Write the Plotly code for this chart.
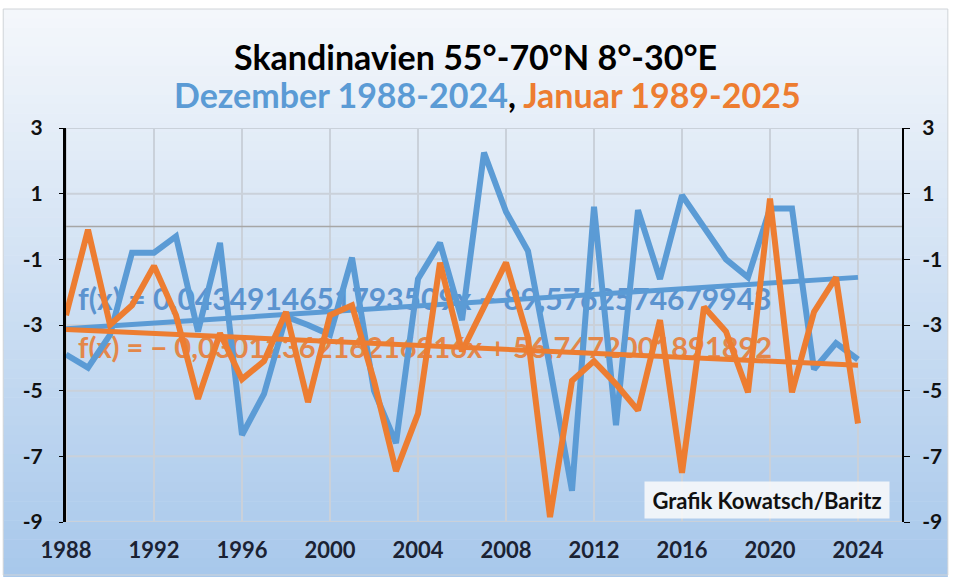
import plotly.graph_objects as go

# ---------------- data ----------------
years = list(range(1988, 2025))
dezember = [-3.9, -4.3, -3.3, -0.8, -0.8, -0.3, -3.2, -0.5, -6.35, -5.1,
            -2.75, -3.0, -3.3, -0.95, -5.0, -6.6, -1.6, -0.5, -2.85, 2.25,
            0.45, -0.75, -4.3, -8.05, 0.6, -6.05, 0.5, -1.6, 0.95, -0.05,
            -1.0, -1.55, 0.55, 0.55, -4.35, -3.55, -4.05]
januar = [-2.7, -0.1, -3.0, -2.4, -1.2, -2.7, -5.25, -3.25, -4.65, -4.1,
          -2.6, -5.35, -2.7, -2.4, -4.7, -7.45, -5.7, -1.1, -3.8, -2.5,
          -1.1, -3.4, -8.85, -4.7, -4.1, -4.8, -5.6, -2.85, -7.5, -2.45,
          -3.2, -5.05, 0.85, -5.05, -2.6, -1.55, -6.0]
trend_dez = (0.0434914651793509, -89.5762574679943)
trend_jan = (-0.0301236216216216, 56.7472001891892)
eq_dez = "f(x) = 0,0434914651793509x − 89,5762574679943"
eq_jan = "f(x) = − 0,0301236216216216x + 56,7472001891892"
x_ticks = list(range(1988, 2025, 4))
y_ticks = [3, 1, -1, -3, -5, -7, -9]
y_ticktext = ["3", "1", "-1", "-3", "-5", "-7", "-9"]
x_range = [1988, 2026]
y_range = [-9, 3]
title1 = "Skandinavien 55°-70°N 8°-30°E"
title2a = "Dezember 1988-2024"
title2b = "Januar 1989-2025"
credit = "Grafik Kowatsch/Baritz"

BLUE = "#5B9BD5"
ORANGE = "#ED7D31"
FONT = "Lato"
GRID = "#CAD1DA"

W, H = 954, 577
L, R, T, B = 66, 905, 128, 522  # plot area in px


def px2paper_x(px):
    return (px - L) / (R - L)


def px2paper_y(py):
    return (B - py) / (B - T)


fig = go.Figure()

# gridlines as a trace (below everything else)
gx, gy = [], []
for xv in x_ticks:
    gx += [xv, xv, None]
    gy += [y_range[0], y_range[1], None]
for yv in y_ticks:
    gx += [x_range[0], x_range[1], None]
    gy += [yv, yv, None]
fig.add_trace(go.Scatter(x=gx, y=gy, mode="lines",
                         line=dict(color=GRID, width=2),
                         showlegend=False, hoverinfo="skip", cliponaxis=False))
# zero line
fig.add_trace(go.Scatter(x=x_range, y=[0, 0], mode="lines",
                         line=dict(color="#A6A6A6", width=1.5),
                         showlegend=False, hoverinfo="skip"))

# equation labels (drawn under the lines)
fig.add_trace(go.Scatter(x=[1988.55], y=[-2.3], mode="text",
                         text=["<b>%s</b>" % eq_dez],
                         textposition="middle right",
                         textfont=dict(family=FONT, size=30, color="#5B93CF"),
                         showlegend=False, hoverinfo="skip"))
fig.add_trace(go.Scatter(x=[1988.55], y=[-3.78], mode="text",
                         text=["<b>%s</b>" % eq_jan],
                         textposition="middle right",
                         textfont=dict(family=FONT, size=29, color="#E3874A"),
                         showlegend=False, hoverinfo="skip"))

# data lines
fig.add_trace(go.Scatter(x=years, y=dezember, mode="lines",
                         line=dict(color=BLUE, width=6), showlegend=False))
x_tr = [years[0], years[-1]]
fig.add_trace(go.Scatter(x=x_tr, y=[trend_dez[0] * x + trend_dez[1] for x in x_tr],
                         mode="lines", line=dict(color=BLUE, width=5),
                         showlegend=False))
fig.add_trace(go.Scatter(x=years, y=januar, mode="lines",
                         line=dict(color=ORANGE, width=6), showlegend=False))
fig.add_trace(go.Scatter(x=x_tr, y=[trend_jan[0] * x + trend_jan[1] for x in x_tr],
                         mode="lines", line=dict(color=ORANGE, width=5),
                         showlegend=False))
# dummy trace for right axis
fig.add_trace(go.Scatter(x=[None], y=[None], yaxis="y2", showlegend=False,
                         hoverinfo="skip"))

# background gradient
shapes = []
top_c = (244, 247, 251)
bot_c = (168, 200, 235)
y_start, y_end = 9, 577
n = 60
for i in range(n):
    f = i / (n - 1)
    c = tuple(int(round(top_c[k] + (bot_c[k] - top_c[k]) * f)) for k in range(3))
    y0 = y_start + (y_end - y_start) * i / n
    y1 = y_start + (y_end - y_start) * (i + 1) / n + 0.6
    shapes.append(dict(type="rect", xref="paper", yref="paper",
                       x0=px2paper_x(3), x1=px2paper_x(951),
                       y0=px2paper_y(y1), y1=px2paper_y(y0),
                       fillcolor="rgb(%d,%d,%d)" % c, line=dict(width=0),
                       layer="below"))
shapes.append(dict(type="rect", xref="paper", yref="paper",
                   x0=px2paper_x(3), x1=px2paper_x(951),
                   y0=px2paper_y(575), y1=px2paper_y(9),
                   line=dict(color="#D0D4D8", width=1), layer="below"))

annotations = [
    dict(text="<b>%s</b>" % title1, xref="paper", yref="paper",
         x=px2paper_x(477), y=px2paper_y(57), showarrow=False,
         font=dict(family=FONT, size=34, color="black"),
         xanchor="center", yanchor="middle"),
    dict(text="<b><span style='color:%s'>%s</span>, <span style='color:%s'>%s</span></b>"
         % (BLUE, title2a, ORANGE, title2b), xref="paper", yref="paper",
         x=px2paper_x(489), y=px2paper_y(95), showarrow=False,
         font=dict(family=FONT, size=34, color="black"),
         xanchor="center", yanchor="middle"),
    dict(text="<b>%s</b>" % credit, xref="paper", yref="paper",
         x=px2paper_x(770), y=px2paper_y(500), showarrow=False,
         font=dict(family=FONT, size=22, color="#111111"),
         bgcolor="rgba(250,250,250,0.85)", width=242, height=34,
         xanchor="center", yanchor="middle"),
]

tickfont = dict(family=FONT, size=21, color="#111111")
fig.update_layout(
    width=W, height=H,
    margin=dict(l=L, r=W - R, t=T, b=H - B, pad=0),
    paper_bgcolor="white",
    plot_bgcolor="rgba(0,0,0,0)",
    shapes=shapes,
    annotations=annotations,
    xaxis=dict(range=x_range, tickvals=x_ticks,
               ticktext=["<b>%d</b>" % v for v in x_ticks],
               showgrid=False, zeroline=False, showline=False,
               ticks="outside", ticklen=0, ticklabelstandoff=9,
               tickfont=dict(family=FONT, size=22, color="#1B2233")),
    yaxis=dict(range=y_range, tickvals=y_ticks,
               ticktext=["<b>%s</b>" % t for t in y_ticktext],
               showgrid=False, zeroline=False,
               showline=True, linecolor="black", linewidth=3,
               ticks="outside", ticklen=4, tickcolor="black", tickwidth=1,
               ticklabelstandoff=12, tickfont=tickfont),
    yaxis2=dict(range=y_range, tickvals=y_ticks,
                ticktext=["<b>%s</b>" % t for t in y_ticktext],
                overlaying="y", side="right", showgrid=False, zeroline=False,
                showline=True, linecolor="black", linewidth=2,
                ticks="outside", ticklen=6, tickcolor="black", tickwidth=1,
                ticklabelstandoff=8, tickfont=tickfont),
    showlegend=False,
)

fig.write_html("out.html", config={"displayModeBar": False},
               post_script="document.body.style.margin='0';")
